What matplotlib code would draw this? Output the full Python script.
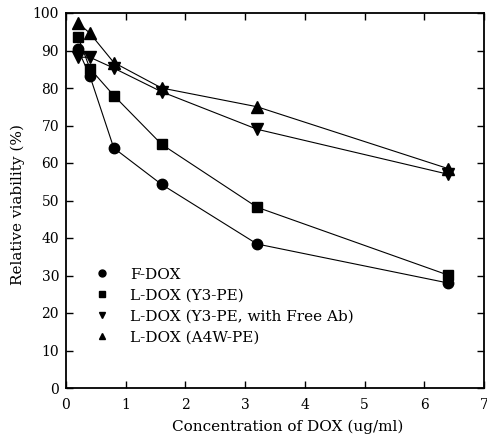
import numpy as np
import matplotlib
matplotlib.use("Agg")
import matplotlib.pyplot as plt
from matplotlib.lines import Line2D

plt.rcParams['font.family'] = ['DejaVu Serif']

# DOX concentration (ug/ml) and relative viability (%)
conc = [0.2, 0.4, 0.8, 1.6, 3.2, 6.4]
f_dox = [90.3, 83.2, 64.0, 54.3, 38.4, 28.0]
l_dox_y3 = [93.7, 85.2, 78.0, 65.0, 48.2, 30.1]
l_dox_y3_ab = [88.2, 88.2, 85.3, 79.0, 69.0, 57.0]
l_dox_a4w = [97.4, 94.6, 86.8, 80.0, 75.0, 58.5]

series = [
    (f_dox, 'o', 'F-DOX'),
    (l_dox_y3, 's', 'L-DOX (Y3-PE)'),
    (l_dox_y3_ab, 'v', 'L-DOX (Y3-PE, with Free Ab)'),
    (l_dox_a4w, '^', 'L-DOX (A4W-PE)'),
]
msizes = {'o': 7.5, 's': 7.0, 'v': 8.5, '^': 8.5}

fig = plt.figure(figsize=(4.87, 4.45), dpi=100)
ax = fig.add_axes([66 / 487, 1 - 388 / 445, 418 / 487, 375 / 445])

for vals, m, lab in series:
    ax.plot(conc, vals, color='black', lw=0.8, marker=m, ms=msizes[m],
            markerfacecolor='black', markeredgecolor='black', clip_on=False)

ax.set_xlim(0, 7)
ax.set_ylim(0, 100)
ax.set_xticks(range(0, 8))
ax.set_yticks(range(0, 101, 10))
ax.tick_params(direction='in', length=5, width=1, top=True, right=True,
               labeltop=False, labelright=False, labelsize=10)
ax.tick_params(axis='x', pad=7)
ax.tick_params(axis='y', pad=5)
for s in ax.spines.values():
    s.set_linewidth(1.3)

ax.set_xlabel('Concentration of DOX (ug/ml)', fontsize=11)
ax.xaxis.set_label_coords(0.53, -0.085)
ax.set_ylabel('Relative viability (%)', fontsize=11)
ax.yaxis.set_label_coords(-0.098, 0.49)

handles = [Line2D([], [], ls='none', marker=m, ms=5, color='black')
           for _, m, _ in series]
labels = [lab for _, _, lab in series]
ax.legend(handles, labels, loc='upper left', bbox_to_anchor=(0.068, 0.321),
          frameon=False, fontsize=11, handletextpad=1.33, labelspacing=0.45,
          handlelength=1.0, borderaxespad=0, borderpad=0)

fig.savefig('out.png', dpi=100)
